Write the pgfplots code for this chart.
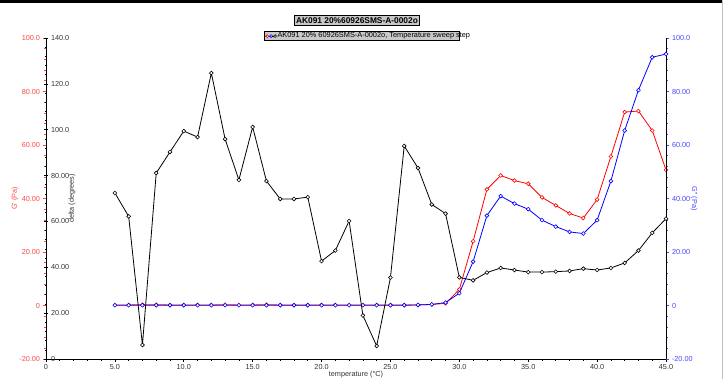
\documentclass[border=0pt]{standalone}
\usepackage{fontspec}
\setmainfont{Liberation Sans}
\usepackage{pgfplots}
\pgfplotsset{compat=1.18}
\usepackage{pgfplotstable}
\definecolor{lblred}{RGB}{255,70,70}
\definecolor{lblblue}{RGB}{70,70,255}
\definecolor{boxgray}{RGB}{200,200,200}

\pgfplotstableread{
T Gp Gpp delta
5 0.2 0.1 72.4
6 0.2 0.1 62.2
7 0.3 0.1 6.1
8 0.3 0.1 81.1
9 0.2 0.1 90.3
10 0.2 0.1 99.4
11 0.2 0.1 96.8
12 0.2 0.1 124.7
13 0.3 0.1 95.9
14 0.2 0.1 78.1
15 0.2 0.1 101.2
16 0.3 0.1 77.6
17 0.2 0.1 69.8
18 0.2 0.1 69.8
19 0.2 0.1 70.6
20 0.2 0.1 42.7
21 0.2 0.1 47.3
22 0.2 0.1 60.2
23 0.2 0.1 19.0
24 0.2 0.1 5.7
25 0.2 0.1 35.5
26 0.2 0.1 92.9
27 0.2 0.2 83.3
28 0.4 0.4 67.4
29 0.8 1.1 63.4
30 6.0 4.6 35.6
31 24.0 16.4 34.3
32 43.4 33.6 37.7
33 48.6 40.9 39.7
34 46.7 38.1 38.8
35 45.5 36.0 37.9
36 40.4 31.9 37.9
37 37.4 29.5 38.1
38 34.4 27.5 38.4
39 32.7 26.9 39.4
40 39.6 31.9 38.8
41 55.7 46.5 39.7
42 72.3 65.4 41.9
43 72.7 80.5 47.3
44 65.4 92.8 55.0
45 50.7 94.0 61.2
}\datatable

\pgfplotsset{
  base/.style={
    scale only axis, width=620bp, height=321bp,
    at={(0,0)}, anchor=south west,
    xmin=0, xmax=45, clip=false,
    /pgf/number format/assume math mode=true,
    tick label style={font=\fontsize{7.3}{8}\selectfont},
    label style={font=\fontsize{7.3}{8}\selectfont},
    major tick length=3bp, minor tick length=1.8bp,
  },
  gaxis/.style={
    ymin=-20, ymax=100,
    ytick={-20,0,20,40,60,80,100},
    yticklabels={-20.00,0,20.00,40.00,60.00,80.00,100.0},
    minor y tick num=4,
  },
  ser/.style={line width=0.8bp, mark=*, mark size=1.9bp, mark options={line width=0.6bp, solid, fill=white}},
}

\begin{document}
\begin{tikzpicture}
% red G' axis with x axis
\begin{axis}[base, gaxis,
  axis x line*=bottom, axis y line*=left,
  axis line style={black, line width=0.9bp},
  tick align=outside,
  xtick={0,5,...,45},
  xticklabels={0,5.0,10.0,15.0,20.0,25.0,30.0,35.0,40.0,45.0},
  minor x tick num=4,
  x tick style={black, line width=0.6bp},
  y tick style={lblred, line width=0.6bp},
  yticklabel style={text=lblred, xshift=0.5bp},
  xticklabel style={text=black!80, yshift=1.5bp},
  xlabel={temperature (°C)},
  xlabel style={at={(axis description cs:0.5,0)}, anchor=center, yshift=-16bp, text=black!80},
  ylabel={G\textquotesingle\ (Pa)},
  ylabel style={at={(axis description cs:-0.05,0.5)}, anchor=center, text=lblred},
]
\addplot[ser, red] table[x=T, y=Gp] {\datatable};
\end{axis}
% blue G'' axis on the right
\begin{axis}[base, gaxis,
  axis x line=none, axis y line*=right,
  axis line style={black, line width=0.9bp},
  tick align=outside,
  y tick style={lblblue, line width=0.6bp},
  yticklabel style={text=lblblue, xshift=-0.5bp},
  ylabel={G\textquotesingle\textquotesingle\ (Pa)},
  ylabel style={at={(axis description cs:1.045,0.5)}, anchor=center, rotate=180, text=lblblue},
]
\addplot[ser, blue] table[x=T, y=Gpp] {\datatable};
\end{axis}
% black delta axis
\begin{axis}[base,
  ymin=0, ymax=140,
  ytick={0,20,40,60,80,100,120,140},
  yticklabels={0,20.00,40.00,60.00,80.00,100.0,120.0,140.0},
  minor y tick num=4,
  axis x line=none, axis y line*=left,
  axis line style={black, line width=0.9bp},
  tick align=center,
  y tick style={black, line width=0.6bp},
  yticklabel style={text=black!80, anchor=west, xshift=3bp},
  ylabel={delta (degrees)},
  ylabel style={at={(axis description cs:0.042,0.5)}, anchor=center, text=black!80},
  legend style={at={(axis description cs:0.509,1.006)}, anchor=center,
    fill=boxgray, draw=black, line width=0.8bp, inner sep=0.6bp,
    font=\fontsize{7.4}{8}\selectfont,
    nodes={inner sep=0.8bp}},
  legend cell align=left,
  legend image code/.code={
    \draw[red, line width=0.7bp] (-1bp,0bp) -- (2.5bp,0bp);
    \draw[red, line width=0.6bp, fill=white] (1bp,0bp) circle (1.4bp);
    \draw[blue, line width=0.7bp] (2.5bp,0bp) -- (6bp,0bp);
    \draw[blue, line width=0.6bp, fill=white] (4.9bp,0bp) circle (1.4bp);
    \draw[black, line width=0.7bp] (6bp,0bp) -- (10bp,0bp);
    \draw[black, line width=0.6bp, fill=white] (8.8bp,0bp) circle (1.4bp);
  },
]
\addplot[ser, black] table[x=T, y=delta] {\datatable};
\addlegendentry{\makebox[180bp][l]{AK091 20\% 60926SMS-A-0002o, Temperature sweep step}}
\end{axis}
% title box
\node[fill=boxgray, draw=black, line width=1bp, inner sep=1.6bp,
  font=\bfseries\fontsize{8.4}{9}\selectfont] at (311bp,338.5bp) {AK091 20\%60926SMS-A-0002o};
% frame decoration
\draw[line width=3.5bp] (-46bp,357.3bp) -- (676bp,357.3bp);
\draw[gray!50, line width=1bp] (676bp,359bp) -- (676bp,-20bp);
\pgfresetboundingbox
\path[use as bounding box] (-46bp,-20bp) rectangle (679bp,359bp);
\end{tikzpicture}
\end{document}
